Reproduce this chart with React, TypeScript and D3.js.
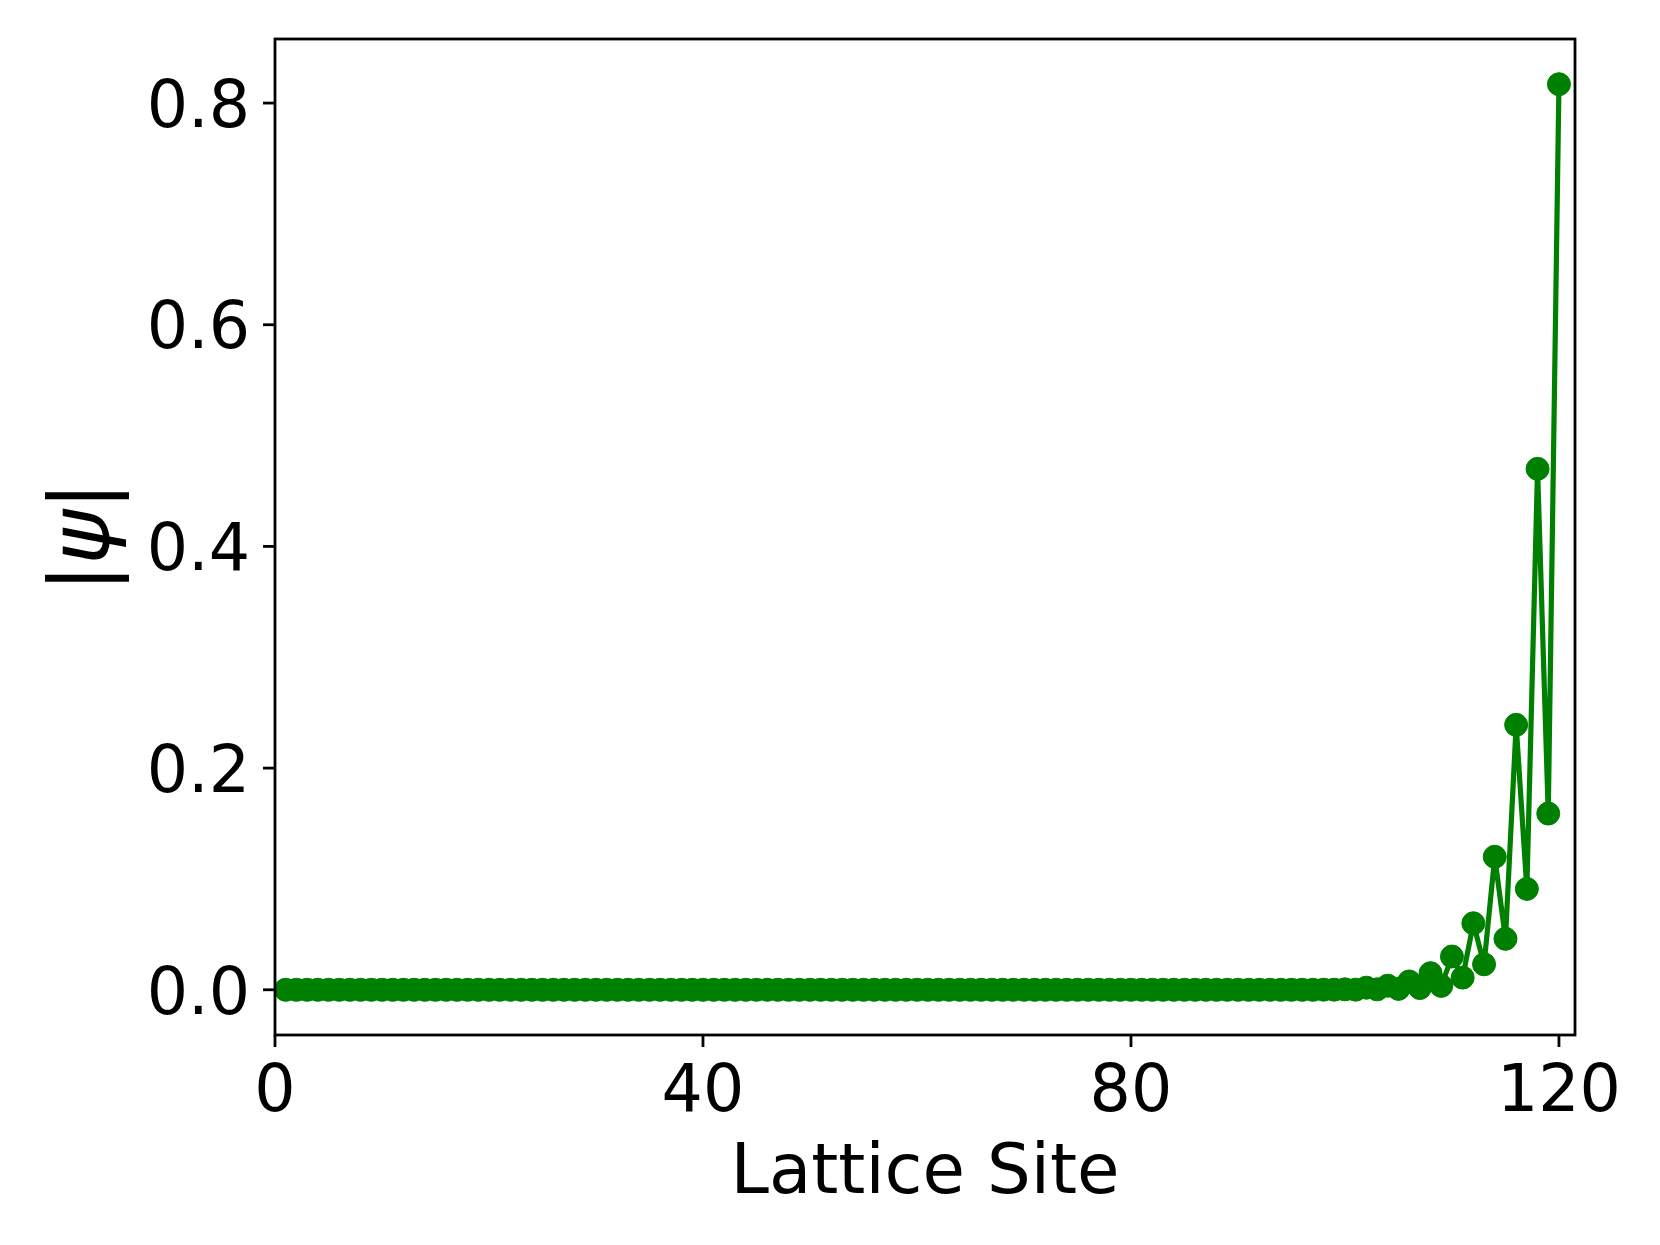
import React from "react";
import * as d3 from "d3";

// |psi| amplitude per lattice site (sites 1..120)
const sites: number[] = Array.from({ length: 120 }, (_, i) => i + 1);
const amplitudes: number[] = [
  0, 0, 0, 0, 0, 0, 0, 0, 0, 0,
  0, 0, 0, 0, 0, 0, 0, 0, 0, 0,
  0, 0, 0, 0, 0, 0, 0, 0, 0, 0,
  0, 0, 0, 0, 0, 0, 0, 0, 0, 0,
  0, 0, 0, 0, 0, 0, 0, 0, 0, 0,
  0, 0, 0, 0, 0, 0, 0, 0, 0, 0,
  0, 0, 0, 0, 0, 0, 0, 0, 0, 0,
  0, 0, 0, 0, 0, 0, 0, 0, 0, 0,
  0, 0, 0, 0, 0, 0, 0, 0, 0, 0,
  0, 0, 0, 0, 0, 0, 0, 0.0001, 0.0001, 0.0004,
  0.0001, 0.0019, 0.0004, 0.0037, 0.0008, 0.0075, 0.0016, 0.015, 0.0035, 0.030,
  0.011, 0.060, 0.023, 0.120, 0.046, 0.239, 0.091, 0.470, 0.159, 0.817,
];

const xTicks: number[] = [0, 40, 80, 120];
const yTicks: number[] = [0.0, 0.2, 0.4, 0.6, 0.8];
const xDomain: [number, number] = [0, 121.5];
const yDomain: [number, number] = [-0.0408, 0.8578];

const W = 1660;
const H = 1245;
const M = { left: 275, right: 1575, top: 39, bottom: 1035 };
const FONT = "DejaVu Sans, sans-serif";
const GREEN = "#008000";

export default function App() {
  const x = d3.scaleLinear().domain(xDomain).range([M.left, M.right]);
  const y = d3.scaleLinear().domain(yDomain).range([M.bottom, M.top]);
  const pts = sites.map((s, i) => [s, amplitudes[i]] as [number, number]);
  const line = d3
    .line<[number, number]>()
    .x((d) => x(d[0]))
    .y((d) => y(d[1]));
  const tickLen = 12;
  const tickFont = 65;
  return (
    <div style={{ position: "absolute", left: 0, top: 0 }}>
      <svg width={W} height={H} style={{ display: "block", background: "#fff" }}>
        <rect x={0} y={0} width={W} height={H} fill="#fff" />
        <defs>
          <clipPath id="ax">
            <rect x={M.left} y={M.top} width={M.right - M.left} height={M.bottom - M.top} />
          </clipPath>
        </defs>
        <g clipPath="url(#ax)">
          <path d={line(pts) || ""} fill="none" stroke={GREEN} strokeWidth={5.2} strokeLinejoin="round" />
          {pts.map((d, i) => (
            <circle key={i} cx={x(d[0])} cy={y(d[1])} r={11.5} fill={GREEN} stroke={GREEN} strokeWidth={1} />
          ))}
        </g>
        <rect
          x={M.left}
          y={M.top}
          width={M.right - M.left}
          height={M.bottom - M.top}
          fill="none"
          stroke="#000"
          strokeWidth={2.8}
        />
        {xTicks.map((t) => (
          <g key={"x" + t}>
            <line x1={x(t)} x2={x(t)} y1={M.bottom} y2={M.bottom + tickLen} stroke="#000" strokeWidth={2.8} />
            <text x={x(t)} y={1111} textAnchor="middle" fontFamily={FONT} fontSize={tickFont} fill="#000">
              {t}
            </text>
          </g>
        ))}
        {yTicks.map((t) => (
          <g key={"y" + t}>
            <line x1={M.left - tickLen} x2={M.left} y1={y(t)} y2={y(t)} stroke="#000" strokeWidth={2.8} />
            <text
              x={M.left - tickLen - 13}
              y={y(t)}
              dy="0.365em"
              textAnchor="end"
              fontFamily={FONT}
              fontSize={tickFont}
              fill="#000"
            >
              {t.toFixed(1)}
            </text>
          </g>
        ))}
        <text x={(M.left + M.right) / 2} y={1193} textAnchor="middle" fontFamily={FONT} fontSize={69} fill="#000">
          Lattice Site
        </text>
        <text
          transform={`translate(109, ${(M.top + M.bottom) / 2}) rotate(-90)`}
          textAnchor="middle"
          fontFamily={FONT}
          fontSize={83}
          fill="#000"
        >
          |<tspan fontStyle="italic">ψ</tspan>|
        </text>
      </svg>
    </div>
  );
}
